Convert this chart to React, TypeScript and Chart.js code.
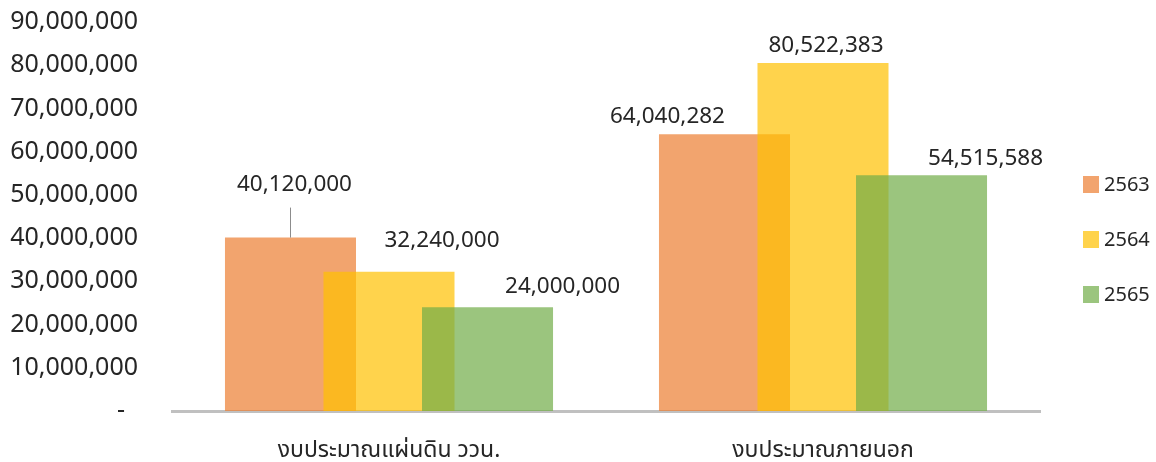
import React, { useEffect, useRef } from "react";
import { Chart, registerables } from "chart.js";

Chart.register(...registerables);

const categories = ["งบประมาณแผ่นดิน ววน.", "งบประมาณภายนอก"];
const seriesNames = ["2563", "2564", "2565"];
const values2563 = [40120000, 64040282];
const values2564 = [32240000, 80522383];
const values2565 = [24000000, 54515588];
const yTicks = [0, 10000000, 20000000, 30000000, 40000000, 50000000, 60000000, 70000000, 80000000, 90000000];

const COLORS = ["rgba(237,125,49,0.7)", "rgba(255,192,0,0.7)", "rgba(112,173,71,0.7)"];
const FONT = "'Noto Sans', 'Noto Sans Thai', 'Open Sans', sans-serif";
const TEXT = "#262626";

// label placement offsets (px) relative to bar centre-x / bar top: [dataset][category]
const LABEL_DX = [[4, -57], [53, 3], [75, 64]];
const LABEL_DY = [[-53, -18], [-31, -17], [-21, -17]];
const LEADER = [[true, false], [false, false], [false, false]];

const fmt = (v: number) => v.toLocaleString("en-US");

const drawOrderPlugin = {
  id: "drawOrder",
  beforeDatasetDraw() {
    return false;
  },
  afterDatasetsDraw(chart: any) {
    for (let i = 0; i < chart.data.datasets.length; i++) {
      const meta = chart.getDatasetMeta(i);
      if (!meta.hidden) meta.controller.draw();
    }
  },
};

const labelPlugin = {
  id: "valueLabels",
  afterDraw(chart: any) {
    const ctx = chart.ctx;
    ctx.save();
    ctx.font = `22.5px ${FONT}`;
    ctx.fillStyle = TEXT;
    ctx.textAlign = "center";
    ctx.textBaseline = "middle";
    chart.data.datasets.forEach((ds: any, di: number) => {
      const meta = chart.getDatasetMeta(di);
      meta.data.forEach((bar: any, i: number) => {
        const x = bar.x + LABEL_DX[di][i];
        const y = bar.y + LABEL_DY[di][i];
        ctx.fillText(fmt(ds.data[i]), x, y);
        if (LEADER[di][i]) {
          ctx.strokeStyle = "#8c8c8c";
          ctx.lineWidth = 1;
          ctx.beginPath();
          ctx.moveTo(Math.round(bar.x) + 0.5, y + 23);
          ctx.lineTo(Math.round(bar.x) + 0.5, bar.y);
          ctx.stroke();
        }
      });
    });
    ctx.restore();
  },
};

const legendPlugin = {
  id: "customLegend",
  afterDraw(chart: any) {
    const ctx = chart.ctx;
    ctx.save();
    ctx.font = `20px ${FONT}`;
    ctx.textAlign = "left";
    ctx.textBaseline = "middle";
    chart.data.datasets.forEach((ds: any, i: number) => {
      const cy = 184 + i * 55;
      ctx.fillStyle = ds.backgroundColor;
      ctx.fillRect(1083, cy - 8, 16, 17);
      ctx.fillStyle = TEXT;
      ctx.fillText(ds.label, 1104, cy + 1);
    });
    ctx.restore();
  },
};

export default function App() {
  const ref = useRef<HTMLCanvasElement>(null);
  useEffect(() => {
    if (!ref.current) return;
    const chart = new Chart(ref.current, {
      type: "bar",
      data: {
        labels: categories,
        datasets: [values2563, values2564, values2565].map((d, i) => ({
          label: seriesNames[i],
          data: d,
          backgroundColor: COLORS[i],
          borderWidth: 0,
          categoryPercentage: 0.681,
          barPercentage: 1.33,
        })),
      },
      options: {
        animation: false,
        responsive: true,
        maintainAspectRatio: false,
        layout: { padding: { left: 8, right: 116, top: 22, bottom: 0 } },
        plugins: {
          legend: { display: false },
          tooltip: { enabled: false },
        },
        scales: {
          x: {
            grid: { display: false, drawTicks: false },
            border: { display: true, color: "#c0c0c0", width: 3 },
            ticks: { color: TEXT, font: { family: FONT, size: 23 }, padding: 26 },
            afterFit(scale: any) {
              scale.height = 51;
              scale.paddingLeft = 0;
              scale.paddingRight = 0;
            },
          },
          y: {
            min: 0,
            max: 90000000,
            afterBuildTicks(scale: any) {
              scale.ticks = yTicks.map((v) => ({ value: v }));
            },
            grid: { display: false, drawTicks: false },
            border: { display: false },
            ticks: {
              color: TEXT,
              font: { family: FONT, size: 25 },
              padding: 34,
              callback: (v: any) => (Number(v) === 0 ? "-  " : fmt(Number(v))),
            },
            afterFit(scale: any) {
              scale.width = 164;
              scale.paddingTop = 0;
              scale.paddingBottom = 0;
            },
          },
        },
      },
      plugins: [drawOrderPlugin, labelPlugin, legendPlugin],
    });
    return () => chart.destroy();
  }, []);
  return (
    <div style={{ position: "fixed", left: 0, top: 0, width: 1156, height: 462, background: "#fff" }}>
      <canvas ref={ref} />
    </div>
  );
}
